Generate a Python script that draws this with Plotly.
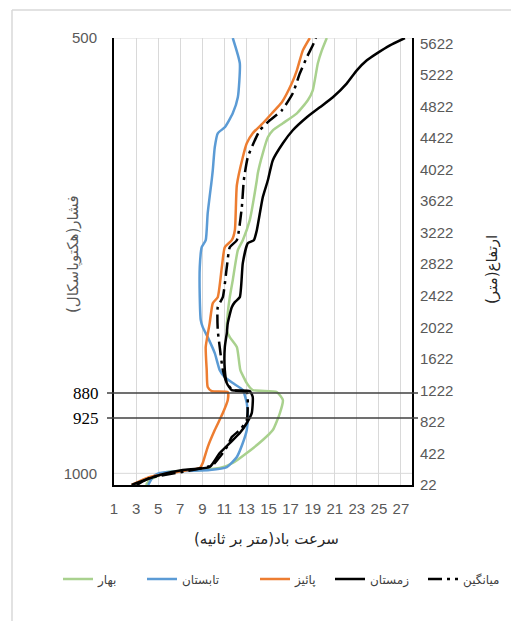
import plotly.graph_objects as go

# ---- data (wind speed m/s vs height m) ----
spring_h = [22, 85, 187, 212, 237, 301, 427, 592, 719, 934, 1099, 1200, 1226, 1314, 1479, 1568, 1771, 1897, 1986, 2201, 2404, 2619, 2999, 3126, 3380, 3886, 3975, 4228, 4431, 4520, 4609, 4735, 4900, 5027, 5369, 5533, 5690]
spring_s = [3.9, 4.24, 5.78, 8.77, 10.58, 11.76, 13.03, 14.48, 15.39, 16.03, 16.30, 15.75, 13.57, 13.03, 12.45, 12.35, 12.13, 11.49, 11.22, 11.31, 11.49, 11.76, 12.22, 12.67, 13.30, 13.94, 14.03, 14.48, 14.94, 15.39, 16.30, 17.57, 18.56, 19.01, 19.47, 19.83, 20.28]

summer_h = [22, 123, 174, 199, 212, 250, 377, 554, 719, 884, 1061, 1226, 1314, 1390, 1479, 1694, 1897, 2024, 2113, 2404, 2784, 3037, 3126, 3468, 3886, 4013, 4304, 4482, 4558, 4735, 4938, 5369, 5690]
summer_s = [4.1, 4.51, 5.14, 7.23, 9.67, 11.22, 12.13, 12.67, 13.03, 13.12, 13.03, 12.67, 11.76, 11.04, 10.58, 10.13, 9.49, 9.04, 8.86, 8.77, 8.77, 8.95, 9.31, 9.49, 9.85, 9.95, 10.13, 10.40, 11.04, 11.76, 12.22, 12.40, 11.76]

autumn_h = [22, 123, 199, 237, 301, 503, 719, 934, 1099, 1200, 1213, 1264, 1479, 1771, 2075, 2328, 2404, 2784, 3037, 3126, 3253, 3823, 4178, 4355, 4482, 4609, 4748, 4875, 5115, 5280, 5533, 5690]
autumn_s = [2.60, 4.24, 7.23, 8.77, 9.04, 9.49, 10.13, 10.86, 11.31, 11.31, 9.85, 9.49, 9.40, 9.31, 9.67, 9.95, 10.40, 10.77, 11.04, 11.67, 11.95, 12.13, 12.67, 13.03, 13.57, 14.48, 15.39, 16.21, 17.11, 17.57, 18.11, 18.74]

winter_h = [22, 47, 149, 212, 250, 427, 554, 681, 808, 934, 1137, 1213, 1226, 1314, 1479, 1771, 1948, 2075, 2277, 2341, 2404, 2835, 3088, 3126, 3253, 3671, 3886, 4140, 4355, 4520, 4685, 4811, 4938, 5115, 5280, 5407, 5495, 5597, 5690]
winter_s = [2.60, 3.06, 5.14, 7.23, 9.67, 10.58, 11.49, 12.40, 13.03, 13.48, 13.57, 13.30, 11.67, 11.22, 11.04, 11.04, 11.22, 11.31, 11.67, 11.95, 12.40, 12.67, 13.12, 13.67, 13.94, 14.48, 14.94, 15.39, 16.30, 17.20, 18.47, 19.65, 20.83, 22.10, 23.00, 23.91, 24.82, 26.00, 27.36]

mean_h = [22, 111, 212, 275, 377, 503, 630, 719, 846, 1061, 1200, 1226, 1314, 1479, 1771, 1986, 2277, 2404, 2784, 3037, 3126, 3544, 3886, 4178, 4393, 4520, 4647, 4773, 4989, 5242, 5445, 5597, 5690]
mean_s = [3.06, 4.24, 8.13, 9.95, 10.58, 11.22, 11.67, 12.40, 13.03, 13.12, 13.03, 11.76, 11.22, 10.86, 10.58, 10.40, 10.40, 10.86, 11.22, 11.49, 12.13, 12.58, 12.76, 13.12, 13.76, 14.21, 15.12, 16.21, 17.20, 17.84, 18.47, 19.01, 19.3]

speed_ticks = list(range(1, 28, 2))
height_ticks = list(range(22, 5623, 400))
pressure_levels = ["1000", "925", "880", "500"]
pressure_heights = [170, 871, 1188, 5690]
y_range = [22, 5690]
x_range = [1, 28]

names = ["بهار", "تابستان", "پائیز", "زمستان", "میانگین"]
colors = ["#A9D18E", "#5B9BD5", "#ED7D31", "#000000", "#000000"]

# figure geometry
W, H = 511, 621
ML, MR, MT, MB = 114, 99, 38, 136
PW = W - ML - MR
PH = H - MT - MB

def px_x(p):
    return (p - ML) / PW

def px_y(p):
    return (H - MB - p) / PH

fig = go.Figure()
series = [(spring_s, spring_h), (summer_s, summer_h), (autumn_s, autumn_h), (winter_s, winter_h), (mean_s, mean_h)]
legend_text_px = [97, 181, 294, 369, 462]
gray = "#595959"
legend_layouts = {}
for i, (s, h) in enumerate(series):
    dash = "14px,5px,3px,5px" if i == 4 else "solid"
    lname = "legend" if i == 0 else f"legend{i + 1}"
    fig.add_trace(go.Scatter(
        x=s, y=h, mode="lines", name=names[i],
        line=dict(color=colors[i], width=2.5, dash=dash, shape="spline", smoothing=0.5),
        yaxis="y", legend=lname,
    ))
    legend_layouts[lname] = dict(
        orientation="h", x=px_x(legend_text_px[i] - 39), xanchor="left",
        y=px_y(579), yanchor="middle",
        font=dict(family="DejaVu Sans", size=12, color="#404040"), bgcolor="rgba(0,0,0,0)")

tickfont = dict(family="Liberation Sans, Arial", size=15, color=gray)

fig.update_layout(
    width=W, height=H,
    margin=dict(l=ML, r=MR, t=MT, b=MB, autoexpand=False),
    paper_bgcolor="white", plot_bgcolor="white",
    showlegend=True,
    xaxis=dict(range=x_range, tickvals=speed_ticks, showgrid=True, gridcolor="#D9D9D9", gridwidth=1,
               showline=True, linecolor="black", linewidth=2, zeroline=False, ticks="",
               tickfont=tickfont, ticklabelstandoff=9),
    yaxis=dict(range=y_range, side="right", tickvals=height_ticks, showgrid=False,
               showline=True, linecolor="black", linewidth=2, zeroline=False, ticks="",
               tickfont=tickfont, anchor="x", ticklabelstandoff=3),
    yaxis2=dict(range=y_range, side="left", overlaying="y", anchor="x",
                tickvals=[pressure_heights[0], pressure_heights[3]],
                ticktext=[pressure_levels[0], pressure_levels[3]],
                showgrid=False, showline=True, linecolor="black", linewidth=2, zeroline=False,
                ticks="", tickfont=tickfont, ticklabelstandoff=12),
    **legend_layouts,
)

# invisible trace to activate yaxis2
fig.add_trace(go.Scatter(x=[None], y=[None], yaxis="y2", showlegend=False, hoverinfo="skip"))

# light horizontal gridlines (500 and 1000 hPa)
for hv in (pressure_heights[0], pressure_heights[3]):
    fig.add_shape(type="line", xref="paper", yref="y", x0=0, x1=1, y0=hv, y1=hv,
                  line=dict(color="#D9D9D9", width=1), layer="below")
# dark lines at 880 and 925 hPa
for hv in (pressure_heights[1], pressure_heights[2]):
    fig.add_shape(type="line", xref="paper", yref="y", x0=px_x(107), x1=px_x(418), y0=hv, y1=hv,
                  line=dict(color="#404040", width=1.5))
# black serif labels for 925 / 880
for lab, hv in ((pressure_levels[1], pressure_heights[1]), (pressure_levels[2], pressure_heights[2])):
    fig.add_annotation(x=px_x(101), xref="paper", y=hv, yref="y", text=lab, showarrow=False,
                       xanchor="right", yanchor="middle",
                       font=dict(family="Liberation Serif", size=17, color="black"))

# chart frame (outer border)
fig.add_shape(type="line", xref="paper", yref="paper", x0=px_x(12), x1=px_x(520), y0=px_y(10), y1=px_y(10),
              line=dict(color="#D9D9D9", width=1.5))
fig.add_shape(type="line", xref="paper", yref="paper", x0=px_x(12), x1=px_x(12), y0=px_y(10), y1=px_y(630),
              line=dict(color="#D9D9D9", width=1.5))

# axis titles
fig.add_annotation(x=px_x(266), xref="paper", y=px_y(539), yref="paper", text="سرعت باد(متر بر ثانیه)",
                   showarrow=False, xanchor="center", yanchor="middle",
                   font=dict(family="DejaVu Sans", size=15, color="#262626"))
fig.add_annotation(x=px_x(73), xref="paper", y=px_y(254), yref="paper", text="فشار(هکتوپاسکال)",
                   showarrow=False, textangle=-90, xanchor="center", yanchor="middle",
                   font=dict(family="DejaVu Sans", size=15, color=gray))
fig.add_annotation(x=px_x(492), xref="paper", y=px_y(270), yref="paper", text="ارتفاع(متر)",
                   showarrow=False, textangle=-90, xanchor="center", yanchor="middle",
                   font=dict(family="DejaVu Sans", size=15, color="#262626"))

fig.write_html("out.html", config={"displayModeBar": False},
               post_script="document.body.style.margin='0';document.body.style.overflow='hidden';")
